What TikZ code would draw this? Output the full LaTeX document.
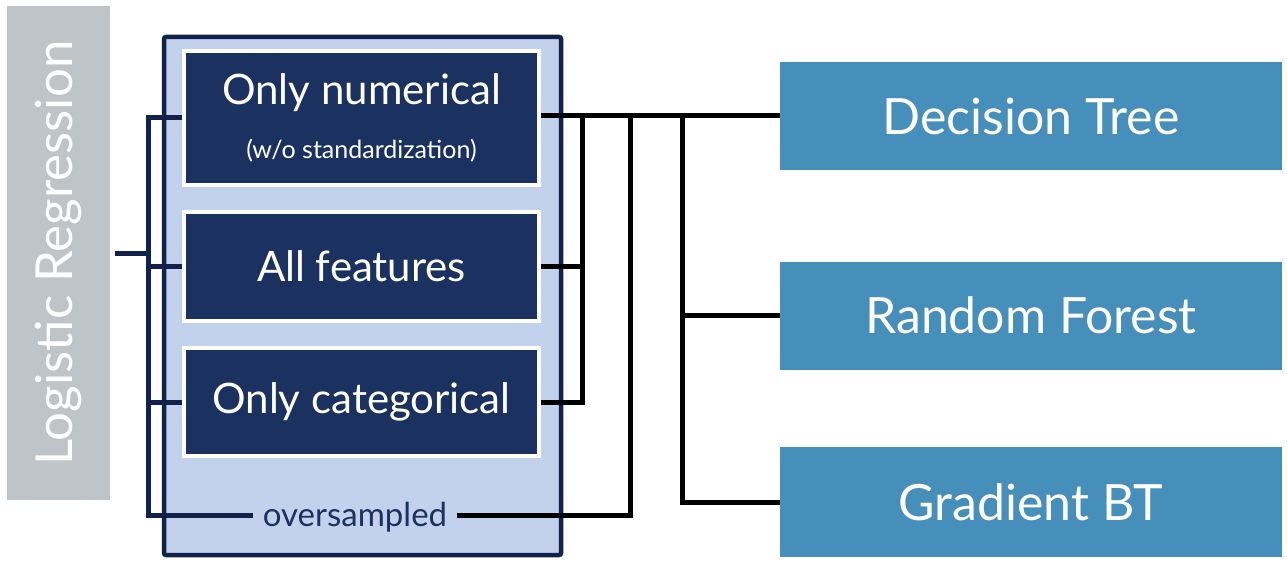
\documentclass[tikz,border=0pt]{standalone}
\usepackage{fontspec}
\setmainfont{Lato}
\pgfdeclarelayer{bg}
\pgfdeclarelayer{mid}
\pgfsetlayers{bg,mid,main}
\definecolor{lrgray}{HTML}{BFC4C8}
\definecolor{contfill}{HTML}{C3D2EC}
\definecolor{contline}{HTML}{13224A}
\definecolor{navybox}{HTML}{1B3160}
\definecolor{steel}{HTML}{468FBA}
\tikzset{
  featbox/.style={draw=white, line width=4pt, fill=navybox, text=white,
    minimum width=355pt, inner sep=0pt, align=center},
  modelbox/.style={fill=steel, text=white, minimum width=502pt,
    minimum height=108pt, inner sep=0pt,
    font=\fontsize{50}{60}\selectfont},
  lline/.style={draw=contline, line width=5pt},
  rline/.style={draw=black, line width=5pt},
}
\begin{document}
\begin{tikzpicture}[x=1pt,y=-1pt]
\useasboundingbox (0,0) rectangle (1287,567);
% left model
\node[fill=lrgray, minimum width=494pt, minimum height=103pt, inner sep=0pt,
  text=white, rotate=90, font=\fontsize{51}{60}\selectfont]
  (lr) at (58.5,253) {Logistic Regression};
% feature boxes
\node[featbox, minimum height=134pt] (b1) at (361.5,118)
  {{\fontsize{42}{50}\selectfont Only numerical}\\[26pt]
   {\fontsize{25}{30}\selectfont (w/o standardization)}};
\node[featbox, minimum height=109pt, font=\fontsize{42}{50}\selectfont]
  (b2) at (361.5,266.5) {All features};
\node[featbox, minimum height=108pt, font=\fontsize{42}{50}\selectfont]
  (b3) at (361.5,402) {Only categorical};
\node[text=navybox, inner xsep=10pt, inner ysep=2pt,
  font=\fontsize{33}{40}\selectfont] (over) at (355,517) {oversampled};
% right models
\node[modelbox] (dt) at (1031,116) {Decision Tree};
\node[modelbox] (rf) at (1031,315.5) {Random Forest};
\node[modelbox, minimum height=110pt] (gb) at (1031,502) {Gradient BT};
% container
\begin{pgfonlayer}{bg}
\node[draw=contline, fill=contfill, line width=4.5pt, rounded corners=2pt,
  minimum width=397pt, minimum height=518pt, inner sep=0pt]
  (cont) at (362.5,296) {};
\end{pgfonlayer}
% bus coordinates
\coordinate (lbus) at (148,253);
\coordinate (r1) at (582,116);
\coordinate (r2) at (630,116);
\coordinate (r3) at (682,116);
\begin{pgfonlayer}{mid}
% left connectors
\draw[lline] ([xshift=5pt]lr.south) -- (lbus);
\draw[lline] (b1.west |- 0,118) -| (lbus) |- ([yshift=2pt]over.west);
\draw[lline] (b2.west) -- (b2.west -| lbus);
\draw[lline] (b3.west) -- (b3.west -| lbus);
% right connectors
\draw[rline] (b1.east |- dt.west) -- (dt.west);
\draw[rline] (b2.east) -- (b2.east -| r1);
\draw[rline] (b3.east) -| (r1);
\draw[rline] ([yshift=2pt]over.east) -| (r2);
\draw[rline] (gb.west) -| (r3);
\draw[rline] (rf.west) -- (rf.west -| r3);
\end{pgfonlayer}
\end{tikzpicture}
\end{document}
